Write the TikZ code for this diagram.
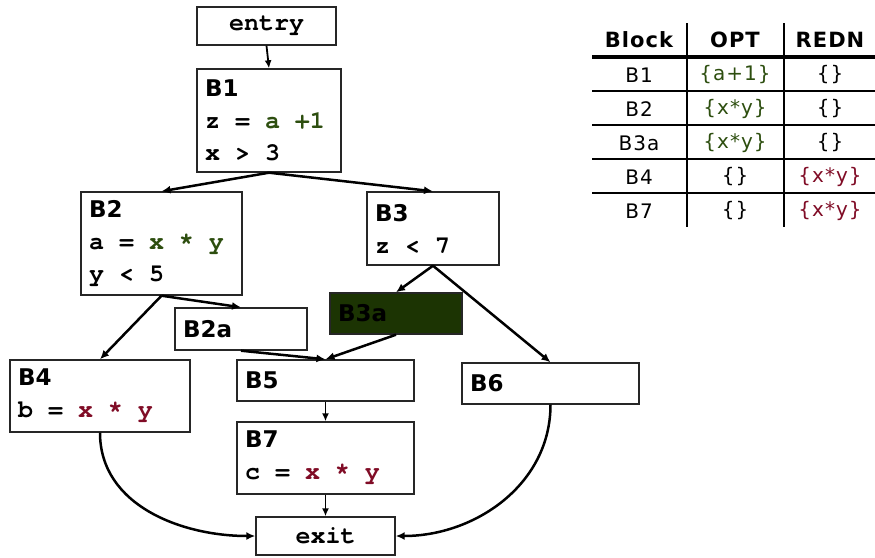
\documentclass[tikz,border=0pt]{standalone}
\usepackage{fontspec}
\setmainfont{DejaVu Sans}
\newfontfamily\tablefont{DejaVu Sans}[LetterSpace=5]
\newfontfamily\codefont{TeX Gyre Cursor}
\usetikzlibrary{arrows.meta}

\definecolor{optgreen}{RGB}{45,78,15}
\definecolor{rednred}{RGB}{128,12,38}
\definecolor{hoisted}{RGB}{28,52,3}

% code lines: fixed pitch, one blank is one letter wide
\newcommand{\gap}{\hspace{15pt}}
\newcommand{\blk}[1]{{\fontsize{23}{32}\selectfont\rmfamily\bfseries #1}}
\newcommand{\opt}[1]{\textcolor{optgreen}{#1}}
\newcommand{\redn}[1]{\textcolor{rednred}{#1}}

\begin{document}
\begin{tikzpicture}[x=1pt,y=-1pt,
    box/.style = {draw=black!85, line width=1.4pt, inner xsep=8pt, inner ysep=0pt,
                  align=left, font=\codefont\bfseries\fontsize{25}{32}\selectfont},
    arrow/.style = {line width=2.5pt,-{Latex[length=9pt,width=8pt]}},
    thinarrow/.style = {line width=1.8pt,-{Latex[length=8pt,width=7pt]}},
    cell/.style = {font=\tablefont\fontsize{20}{22}\selectfont},
    head/.style = {font=\tablefont\fontsize{21}{22}\selectfont\bfseries}]
    \useasboundingbox (0,0) rectangle (875,557);

    % flow graph
    \node[box,minimum width=139pt,minimum height=38pt,align=center] (entry) at (266.5,26) {entry};
    \node[box,text width=128pt,minimum height=103pt] (b1) at (269,120.5)
        {\blk{B1}\\z\gap=\gap\opt{a\gap+1}\\x\gap>\gap3};
    \node[box,text width=145pt,minimum height=103pt] (b2) at (161.5,243.5)
        {\blk{B2}\\a\gap=\gap\opt{x\gap*\gap y}\\y\gap<\gap5};
    \node[box,text width=116pt,minimum height=73pt] (b3) at (433,228.5)
        {\blk{B3}\\z\gap<\gap7};
    \node[box,text width=116pt,minimum height=42pt] (b2a) at (241,329) {\blk{B2a}};
    \node[box,fill=hoisted,text width=116pt,minimum height=41pt] (b3a) at (396,313.5) {\blk{B3a}};
    \node[box,text width=164pt,minimum height=72pt] (b4) at (100,396)
        {\blk{B4}\\b\gap=\gap\redn{x\gap*\gap y}};
    \node[box,text width=161pt,minimum height=41pt] (b5) at (325.5,380.5) {\blk{B5}};
    \node[box,text width=161pt,minimum height=41pt] (b6) at (550.5,383.5) {\blk{B6}};
    \node[box,text width=161pt,minimum height=72pt] (b7) at (325.5,458)
        {\blk{B7}\\c\gap=\gap\redn{x\gap*\gap y}};
    \node[box,minimum width=139pt,minimum height=38pt,align=center] (exit) at (325.5,536) {exit};

    \draw[thinarrow] (entry.south) -- (b1.north);
    \draw[arrow] (b1.south) -- (b2.north);
    \draw[arrow] (b1.south) -- (b3.north);
    \draw[arrow] (b2.south) -- (b4.north);
    \draw[arrow] (b2.south) -- (b2a.north);
    \draw[arrow] (b3.south) -- (b3a.north);
    \draw[arrow] (b3.south) -- (b6.north);
    \draw[arrow] (b2a.south) -- (b5.north);
    \draw[arrow] (b3a.south) -- (b5.north);
    \draw[thinarrow] (b5.south) -- (b7.north);
    \draw[thinarrow] (b7.south) -- (exit.north);
    \draw[arrow] (b4.south) to[out=-90,in=180] (exit.west);
    \draw[arrow] (b6.south) to[out=-90,in=0] (exit.east);

    % table of sets
    \node[head] (hblock) at (639,40) {Block};
    \node[head] (hopt) at (735,40) {OPT};
    \node[head] (hredn) at (830,40) {REDN};
    \foreach \name/\o/\r [count=\i] in {B1/\opt{\{a+1\}}/\{\},
                                        B2/\opt{\{x*y\}}/\{\},
                                        B3a/\opt{\{x*y\}}/\{\},
                                        B4/\{\}/\redn{\{x*y\}},
                                        B7/\{\}/\redn{\{x*y\}}} {
        \node[cell] (blk\i) at (639,41+34*\i) {\name};
        \node[cell] (opt\i) at (735,41+34*\i) {\o};
        \node[cell] (redn\i) at (830,41+34*\i) {\r};
    }
    \draw[line width=3.5pt] (592,57) -- (875,57);
    \foreach \y in {91,125,159,193}
        \draw[line width=2pt] (592,\y) -- (875,\y);
    \draw[line width=2pt] (687,23) -- (687,227);
    \draw[line width=2pt] (784,23) -- (784,227);
\end{tikzpicture}
\end{document}
